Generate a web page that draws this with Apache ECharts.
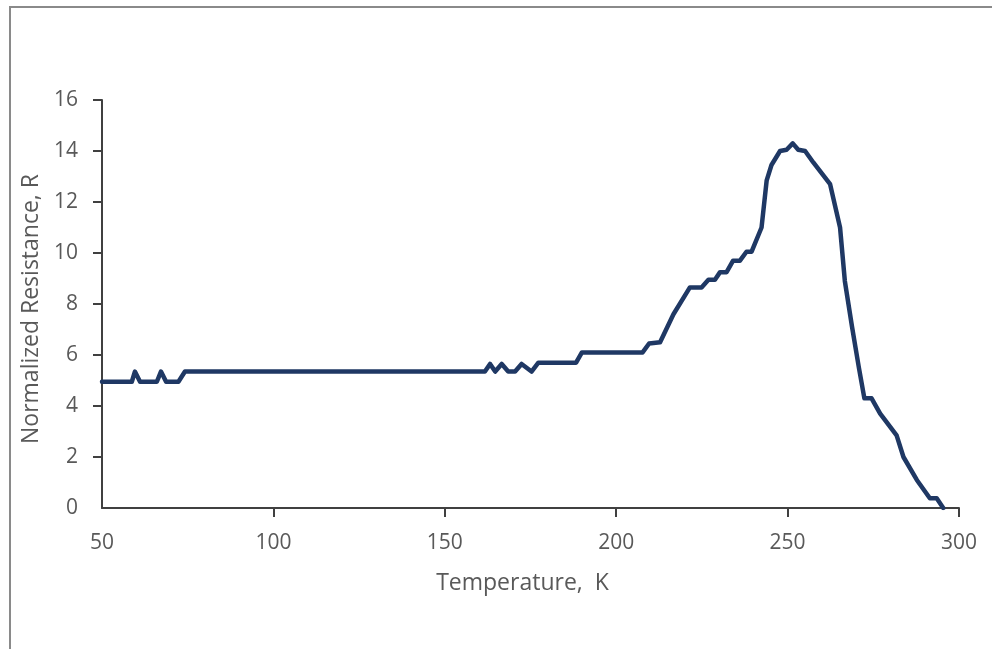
<!DOCTYPE html>
<html>
<head>
<meta charset="utf-8">
<script src="https://cdn.jsdelivr.net/npm/echarts@6/dist/echarts.min.js"></script>
<style>
html,body{margin:0;padding:0;background:#fff;}
#c{width:992px;height:649px;}
</style>
</head>
<body>
<div id="c"></div>
<script>
const temperature = [50, 58.7, 59.6, 61.1, 66, 67.2, 68.7, 72.3, 74.2, 161.7, 163.2, 164.7, 166.6, 168.5, 170.5, 172.4, 175.3, 177.3, 188.3, 190, 207.7, 209.6, 212.8, 216.7, 221.5, 224.9, 226.9, 228.8, 230.3, 232.2, 234.1, 236.1, 238, 239.5, 242.4, 243.9, 245.3, 247.8, 249.7, 251.5, 253.1, 255.1, 257.5, 262.4, 265.3, 266.7, 268.8, 270.8, 272.4, 274.5, 277, 281.8, 283.8, 287.7, 291.5, 293.5, 295.4];
const resistance = [4.95, 4.95, 5.35, 4.95, 4.95, 5.35, 4.95, 4.95, 5.35, 5.35, 5.65, 5.35, 5.65, 5.35, 5.35, 5.65, 5.35, 5.7, 5.7, 6.1, 6.1, 6.45, 6.5, 7.6, 8.65, 8.65, 8.95, 8.95, 9.25, 9.25, 9.7, 9.7, 10.05, 10.05, 11.0, 12.85, 13.45, 14.0, 14.05, 14.3, 14.05, 14.0, 13.55, 12.7, 11.0, 8.9, 7.1, 5.5, 4.3, 4.3, 3.7, 2.85, 2.0, 1.1, 0.38, 0.38, 0];
const xTicks = [50, 100, 150, 200, 250, 300];
const yTicks = [0, 2, 4, 6, 8, 10, 12, 14, 16];

const points = temperature.map((t, i) => [t, resistance[i]]);
const font = '"Open Sans", sans-serif';
const textColor = '#595959';
const axisColor = '#404040';

const chart = echarts.init(document.getElementById('c'), null, {renderer: 'canvas'});
chart.setOption({
  animation: false,
  backgroundColor: '#fff',
  graphic: [{
    type: 'rect',
    shape: {x: 10, y: 7, width: 1200, height: 900},
    style: {fill: 'none', stroke: '#8a8a8a', lineWidth: 2},
    silent: true
  }],
  grid: {left: 102, top: 100, right: 33, bottom: 141, containLabel: false},
  xAxis: {
    type: 'value',
    min: xTicks[0],
    max: xTicks[xTicks.length - 1],
    interval: 50,
    name: 'Temperature,  K',
    nameLocation: 'middle',
    nameGap: 64,
    nameTextStyle: {color: textColor, fontFamily: font, fontSize: 23, padding: [0, 16, 0, 0]},
    axisLine: {show: true, lineStyle: {color: axisColor, width: 2}},
    axisTick: {show: true, length: 9, lineStyle: {color: axisColor, width: 2},
      customValues: xTicks.slice(1)},
    axisLabel: {color: textColor, fontFamily: font, fontSize: 21, margin: 25},
    splitLine: {show: false}
  },
  yAxis: {
    type: 'value',
    min: yTicks[0],
    max: yTicks[yTicks.length - 1],
    interval: 2,
    name: 'Normalized Resistance, R',
    nameLocation: 'middle',
    nameGap: 57,
    nameTextStyle: {color: textColor, fontFamily: font, fontSize: 23, padding: [0, 10, 0, 0]},
    axisLine: {show: true, lineStyle: {color: axisColor, width: 2}},
    axisTick: {show: true, length: 9, lineStyle: {color: axisColor, width: 2},
      customValues: yTicks.slice(1)},
    axisLabel: {color: textColor, fontFamily: font, fontSize: 21, margin: 24, padding: [0, 0, 6, 0]},
    splitLine: {show: false}
  },
  series: [{
    type: 'line',
    data: points,
    showSymbol: false,
    symbol: 'none',
    lineStyle: {color: '#1f3864', width: 4.5, join: 'round', cap: 'round'},
    z: 3
  }]
});
</script>
</body>
</html>
